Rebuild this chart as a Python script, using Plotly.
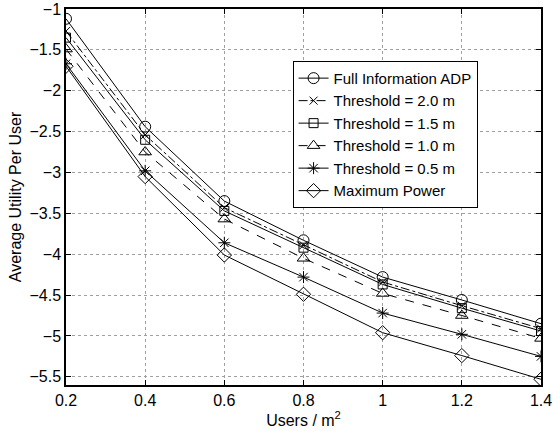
import plotly.graph_objects as go

x_vals = [0.2, 0.4, 0.6, 0.8, 1.0, 1.2, 1.4]
full_info = [-1.12, -2.44, -3.35, -3.83, -4.28, -4.56, -4.85]
thr_20 = [-1.27, -2.54, -3.43, -3.89, -4.34, -4.63, -4.91]
thr_15 = [-1.35, -2.60, -3.47, -3.92, -4.37, -4.66, -4.94]
thr_10 = [-1.49, -2.75, -3.57, -4.05, -4.48, -4.75, -5.03]
thr_05 = [-1.67, -2.98, -3.86, -4.28, -4.72, -4.98, -5.25]
max_power = [-1.70, -3.05, -4.01, -4.49, -4.96, -5.24, -5.53]

names = ["Full Information ADP", "Threshold = 2.0 m", "Threshold = 1.5 m",
         "Threshold = 1.0 m", "Threshold = 0.5 m", "Maximum Power"]
series = [full_info, thr_20, thr_15, thr_10, thr_05, max_power]
symbols = ["circle-open", "x-thin-open", "square-open", "triangle-up-open",
           "asterisk-open", "diamond-open"]
dashes = ["solid", "dashdot", "solid", "dash", "solid", "solid"]
sizes = [11, 8, 9, 11, 10, 11]

FONT = "Liberation Sans, Arial, sans-serif"

fig = go.Figure()
for n, s, sym, d, sz in zip(names, series, symbols, dashes, sizes):
    fig.add_trace(go.Scatter(
        x=x_vals, y=s, name=n, mode="lines+markers",
        line=dict(color="black", width=1, dash=d),
        marker=dict(symbol=sym, size=sz, color="black",
                    line=dict(color="black", width=1)),
    ))

axis_common = dict(
    showline=True, linecolor="black", linewidth=1.5, mirror="ticks",
    ticks="inside", ticklen=5, tickcolor="black",
    showgrid=True, gridcolor="#a0a0a0", griddash="dot", gridwidth=1,
    zeroline=False, automargin=False,
    tickfont=dict(family=FONT, size=16, color="black"),
    title_font=dict(family=FONT, size=16, color="black"),
)

fig.update_layout(
    width=553, height=431,
    margin=dict(l=66, r=12, t=9, b=46),
    paper_bgcolor="white", plot_bgcolor="white",
    font=dict(family=FONT, size=16, color="black"),
    xaxis=dict(range=[0.2, 1.4], tickvals=[0.2, 0.4, 0.6, 0.8, 1.0, 1.2, 1.4],
               ticktext=["0.2", "0.4", "0.6", "0.8", "1", "1.2", "1.4"],
               ticklabeloverflow="allow",
               title=dict(text="Users / m<sup>2</sup>", standoff=0), **axis_common),
    yaxis=dict(range=[-5.6, -1], tickvals=[-1, -1.5, -2, -2.5, -3, -3.5, -4, -4.5, -5, -5.5],
               ticktext=["\u22121", "\u22121.5", "\u22122", "\u22122.5", "\u22123", "\u22123.5",
                         "\u22124", "\u22124.5", "\u22125", "\u22125.5"],
               ticklabeloverflow="allow",
               title=dict(text="Average Utility Per User", standoff=4), **axis_common),
    legend=dict(x=0.477, y=0.862, xanchor="left", yanchor="top",
                bgcolor="white", bordercolor="black", borderwidth=1,
                font=dict(family=FONT, size=15, color="black"),
                tracegroupgap=0, itemwidth=30),
    showlegend=True,
)

fig.write_html(
    "out.html",
    config={"displayModeBar": False},
    post_script="document.body.style.margin='0';document.body.style.overflow='hidden';",
)
